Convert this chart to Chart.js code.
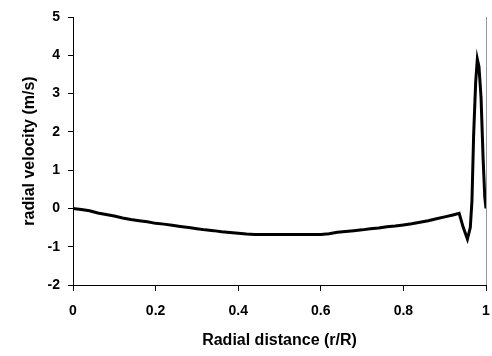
<!DOCTYPE html>
<html><head><meta charset="utf-8">
<script src="https://cdn.jsdelivr.net/npm/chart.js@4/dist/chart.umd.min.js"></script>
<style>html,body{margin:0;padding:0;background:#fff}#c{display:block}</style>
</head><body>
<canvas id="c" width="492" height="356"></canvas>
<script>
const radialDistance = [0,0.02,0.04,0.06,0.08,0.10,0.12,0.14,0.16,0.18,0.20,0.22,0.24,0.26,0.28,0.30,0.32,0.34,0.36,0.38,0.40,0.42,0.44,0.46,0.50,0.55,0.60,0.62,0.64,0.66,0.68,0.70,0.72,0.74,0.76,0.78,0.80,0.82,0.84,0.86,0.88,0.90,0.92,0.935,0.945,0.955,0.962,0.966,0.970,0.975,0.979,0.983,0.988,0.993,0.997,1.0];
const radialVelocity = [0,-0.03,-0.06,-0.12,-0.16,-0.2,-0.25,-0.29,-0.32,-0.35,-0.39,-0.41,-0.44,-0.47,-0.5,-0.53,-0.56,-0.58,-0.61,-0.63,-0.65,-0.67,-0.68,-0.68,-0.68,-0.68,-0.68,-0.66,-0.62,-0.6,-0.58,-0.56,-0.53,-0.51,-0.48,-0.46,-0.43,-0.4,-0.36,-0.32,-0.27,-0.22,-0.17,-0.13,-0.5,-0.8,-0.5,0.2,1.9,3.3,3.9,3.7,2.9,1.3,0.3,0];
const xTicks = [0,0.2,0.4,0.6,0.8,1];
const yTicks = [-2,-1,0,1,2,3,4,5];

const pts = radialDistance.map((x,i)=>({x:x,y:radialVelocity[i]}));
const FONT = 'Liberation Sans, Arial, sans-serif';
new Chart(document.getElementById('c'), {
  type: 'line',
  data: { datasets: [{ data: pts, borderColor:'#000', borderWidth:3, pointRadius:0, tension:0, fill:false }] },
  options: {
    responsive:false, animation:false,
    layout:{ padding:{ top:17, right:6, left:0, bottom:0 } },
    plugins:{ legend:{display:false}, tooltip:{enabled:false} },
    scales:{
      x:{ type:'linear', min:0, max:1,
        afterBuildTicks: s => { s.ticks = xTicks.map(v=>({value:v})); },
        afterFit: s => { s.height = 356-285; s.paddingLeft = 0; s.paddingRight = 0; },
        ticks:{ color:'#000', font:{family:FONT, size:14, weight:'bold'}, padding:12, maxRotation:0,
          callback: v => String(v) },
        grid:{ drawOnChartArea:true, tickLength:6, tickColor:'#000',
          color: ctx => (ctx.tick && ctx.tick.value===1) ? '#999' : 'rgba(0,0,0,0)' },
        border:{ color:'#000', width:1 },
        title:{ display:true, text:'Radial distance (r/R)', color:'#000', font:{family:FONT, size:16, weight:'bold'}, padding:{top:6,bottom:6} }
      },
      y:{ type:'linear', min:-2, max:5,
        afterBuildTicks: s => { s.ticks = yTicks.map(v=>({value:v})); },
        afterFit: s => { s.width = 73; s.paddingTop = 0; s.paddingBottom = 0; },
        ticks:{ color:'#000', font:{family:FONT, size:14, weight:'bold'}, padding:8 },
        grid:{ drawOnChartArea:false, tickLength:5, tickColor:'#000' },
        border:{ color:'#000', width:1 },
        title:{ display:true, text:'radial velocity (m/s)', color:'#000', font:{family:FONT, size:16, weight:'bold'}, padding:{top:20,bottom:20} }
      }
    }
  }
});
</script>
</body></html>
